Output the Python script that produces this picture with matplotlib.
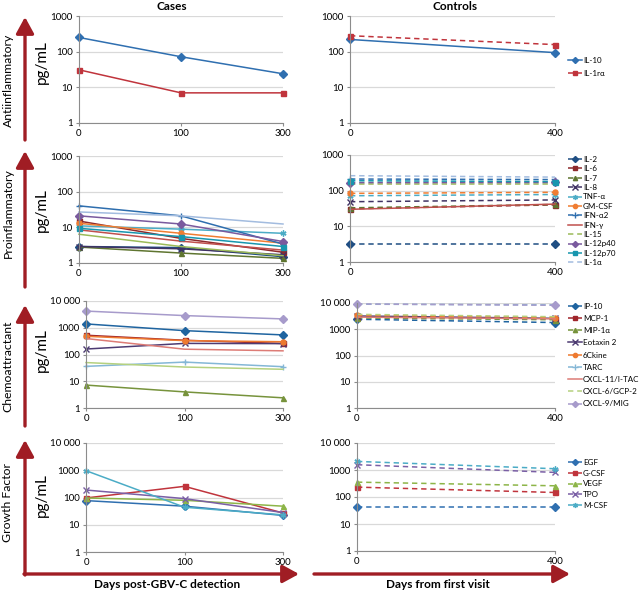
"""Cytokine levels (pg/mL) in cases vs controls, four panel rows."""

import matplotlib
matplotlib.use('Agg')
import matplotlib.pyplot as plt
from matplotlib.patches import FancyArrowPatch

plt.rcParams['font.family'] = ['Lato', 'DejaVu Sans']

# ---- data -------------------------------------------------------------
days_cases = ['0', '100', '300']
days_controls = [0, 400]

anti_names = ['IL-10', 'IL-1rα']
anti_cases = [[250, 72, 24], [31, 7, 7]]
anti_controls = [[220, 94], [280, 158]]

pro_names = ['IL-2', 'IL-6', 'IL-7', 'IL-8', 'TNF-α', 'GM-CSF', 'IFN-α2',
             'IFN-γ', 'IL-15', 'IL-12p40', 'IL-12p70', 'IL-1α']
pro_cases = [[2.9, 2.7, 1.5], [15, 4.9, 2.0], [2.8, 1.9, 1.35], [2.9, 2.5, 1.7],
             [11, 8.9, 6.8], [13, 6.8, 3.6], [40, 21, 3.4], [8.5, 4.1, 2.3],
             [6.4, 2.9, 1.6], [21, 12.4, 4.0], [9.4, 5.5, 2.9], [27, 21, 12.4]]
pro_controls = [[3.3, 3.3], [31, 40], [33, 41], [49, 55], [72, 78], [84, 90],
                [212, 205], [30, 42], [150, 150], [168, 170], [190, 180], [263, 240]]

chemo_names = ['IP-10', 'MCP-1', 'MIP-1α', 'Eotaxin 2', '6Ckine', 'TARC',
               'CXCL-11/I-TAC', 'CXCL-6/GCP-2', 'CXCL-9/MIG']
chemo_cases = [[1390, 780, 540], [525, 340, 258], [7.2, 4.0, 2.4], [160, 260, 255],
               [480, 330, 300], [36, 52, 35], [395, 158, 137], [50, 34, 28],
               [4200, 2850, 2140]]
chemo_controls = [[2400, 1800], [3000, 2500], [2700, 2300], [3200, 2600],
                  [3400, 2800], [9000, 8500], [2900, 2500], [3700, 3000],
                  [9200, 8200]]

growth_names = ['EGF', 'G-CSF', 'VEGF', 'TPO', 'M-CSF']
growth_cases = [[77, 48, 22], [96, 257, 27], [96, 79, 48], [188, 91, 28], [965, 44, 23]]
growth_controls = [[44, 44], [232, 147], [355, 260], [1570, 815], [2080, 1115]]

row_titles = ['Antiinflammatory', 'Proinflammatory', 'Chemoattractant', 'Growth Factor']

# ---- styles -------------------------------------------------------------
AST = (6, 2, 0)
anti_style = [('#2F6FB0', 'D', '-'), ('#C0343C', 's', '--')]
pro_style = [('#1F4E83', 'D', '--'), ('#8E2A2C', 's', '--'), ('#5F7530', '^', '--'),
             ('#403263', 'x', '--'), ('#4BACC6', AST, '--'), ('#F07D32', 'o', '--'),
             ('#2E6EAE', '+', '--'), ('#C0504D', '', '-'), ('#9BBB59', '', '--'),
             ('#7A5A9E', 'D', '--'), ('#1896AE', 's', '--'), ('#A3BCDF', '', '--')]
chemo_style = [('#1F64A0', 'D', '--'), ('#A0252B', 's', '--'), ('#77933C', '^', '--'),
               ('#4D3B72', 'x', '-'), ('#EE7A30', 'o', '--'), ('#84B7D6', '+', '--'),
               ('#DD7C76', '', '-'), ('#B5D17F', '', '--'), ('#A79BCB', 'D', '--')]
growth_style = [('#2F6FB0', 'D', '--'), ('#C0343C', 's', '--'), ('#8DB548', '^', '--'),
                ('#7A5FA5', 'x', '--'), ('#4BACC6', AST, '--')]

ARROW = '#A01D24'
GRID = '#D9D9D9'
AXIS = '#8C8C8C'

# pixel boxes (x0, x1, ytop, ybottom) for cases / controls axes
boxes = [
    ((79, 283, 16, 123), (350, 555, 16, 123)),
    ((79, 283, 156, 263), (350, 555, 155, 262)),
    ((86, 283, 301, 408), (357, 555, 303, 408)),
    ((86, 283, 443, 552), (357, 555, 443, 551)),
]
W, H = 640, 592


def add_ax(fig, box):
    x0, x1, yt, yb = box
    return fig.add_axes([x0 / W, 1 - yb / H, (x1 - x0) / W, (yb - yt) / H])


def style_ax(ax, top):
    ax.set_yscale('log')
    ax.set_ylim(1, top)
    ticks = [10 ** i for i in range(len(str(top)))]
    ax.set_yticks(ticks)
    ax.set_yticklabels(['10 000' if t == 10000 else str(t) for t in ticks])
    ax.minorticks_off()
    ax.grid(axis='y', color=GRID, lw=0.9)
    ax.set_axisbelow(True)
    for s in ('top', 'right'):
        ax.spines[s].set_visible(False)
    for s in ('left', 'bottom'):
        ax.spines[s].set_color(AXIS)
        ax.spines[s].set_linewidth(0.8)
    ax.tick_params(labelsize=7, length=2.5, color=AXIS, pad=2)


def draw(ax, xs, series, styles, dashed_ok):
    handles = []
    for vals, (c, m, ls) in zip(series, styles):
        ls = ls if dashed_ok else '-'
        small = m in ('x', '+', AST)
        h, = ax.plot(xs, vals, color=c, marker=m or None,
                     ls=ls if ls == '-' else (0, (3.5, 2.5)),
                     lw=1.1, ms=4.3 if small else 3.6, mew=1.0, clip_on=False)
        handles.append(h)
    return handles


rows = [
    (anti_names, anti_cases, anti_controls, anti_style, 1000),
    (pro_names, pro_cases, pro_controls, pro_style, 1000),
    (chemo_names, chemo_cases, chemo_controls, chemo_style, 10000),
    (growth_names, growth_cases, growth_controls, growth_style, 10000),
]
legend_y = [67, 211, 355, 484]
legend_sp = [0.75, 0.3, 0.65, 0.45]

fig = plt.figure(figsize=(W / 100, H / 100), dpi=100)

for i, (names, cases, controls, styles, top) in enumerate(rows):
    left = add_ax(fig, boxes[i][0])
    right = add_ax(fig, boxes[i][1])
    style_ax(left, top)
    style_ax(right, top)

    xs = list(range(len(days_cases)))
    draw(left, xs, cases, styles, False)
    left.set_xlim(0, len(days_cases) - 1)
    left.set_xticks(xs)
    left.set_xticklabels(days_cases)

    hs = draw(right, days_controls, controls, styles, True)
    right.set_xlim(days_controls[0], days_controls[-1])
    right.set_xticks(days_controls)

    fig.legend(hs, names, loc='center left', bbox_to_anchor=(568 / W, 1 - legend_y[i] / H),
               frameon=False, fontsize=5.8, handlelength=1.7, handletextpad=0.15,
               borderpad=0, borderaxespad=0, labelspacing=legend_sp[i],
               markerscale=0.85)

# overlay in pixel coordinates for arrows and labels
ov = fig.add_axes([0, 0, 1, 1], zorder=-1)
ov.set_xlim(0, W)
ov.set_ylim(H, 0)
ov.axis('off')

arrows = [((25, 140), (25, 17)), ((25, 287), (25, 151)), ((25, 426), (25, 305)),
          ((25, 575), (25, 440)), ((24, 574), (299, 574)), ((314, 574), (570, 574))]
for a, b in arrows:
    ov.add_patch(FancyArrowPatch(a, b, arrowstyle='-|>,head_length=1.1,head_width=0.6',
                                 mutation_scale=9, color=ARROW, lw=2.4,
                                 shrinkA=0, shrinkB=0))

row_label_y = [80, 213, 366, 502]
pg_y = [62, 210, 350, 495]
for t, ty, py in zip(row_titles, row_label_y, pg_y):
    ov.text(8, ty, t, rotation=90, ha='center', va='center', fontsize=8.8)
    ov.text(42, py, 'pg/mL', rotation=90, ha='center', va='center', fontsize=11)

ov.text(172, 7, 'Cases', ha='center', va='center', fontsize=8.5, fontweight='bold')
ov.text(455, 7, 'Controls', ha='center', va='center', fontsize=8.5, fontweight='bold')
ov.text(167, 585, 'Days post-GBV-C detection', ha='center', va='center',
        fontsize=8.5, fontweight='bold')
ov.text(438, 585, 'Days from first visit', ha='center', va='center',
        fontsize=8.5, fontweight='bold')

fig.savefig('out.png', dpi=100)
